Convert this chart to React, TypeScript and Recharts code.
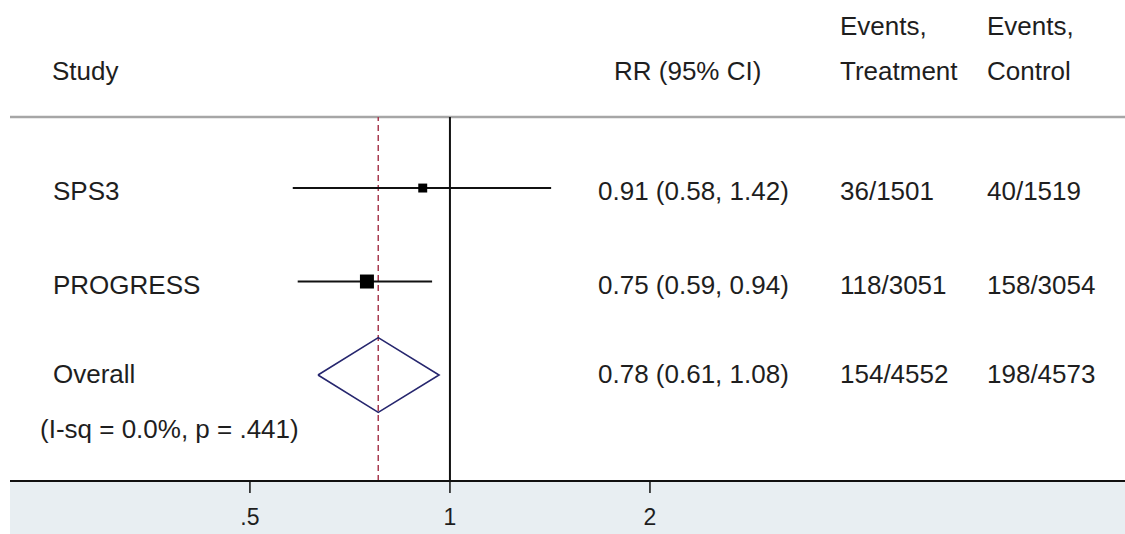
import React from 'react';
import { ComposedChart, XAxis, YAxis, Scatter, ReferenceLine, Customized } from 'recharts';

// ---- data ----
const studies = ['SPS3', 'PROGRESS'];
const rr = [0.91, 0.75];
const ciLow = [0.58, 0.59];
const ciHigh = [1.42, 0.94];
const weights = [29, 71];
const rrLabels = ['0.91 (0.58, 1.42)', '0.75 (0.59, 0.94)'];
const eventsTreatment = ['36/1501', '118/3051'];
const eventsControl = ['40/1519', '158/3054'];
const rowPositions = [3, 2];

const overallLabel = 'Overall';
const overallHet = '(I-sq = 0.0%, p = .441)';
const overallRR = 0.78;
const overallDiamondLow = 0.633;
const overallDiamondHigh = 0.963;
const overallRRLabel = '0.78 (0.61, 1.08)';
const overallTreatment = '154/4552';
const overallControl = '198/4573';
const overallRow = 1;

const xTicks = [0.5, 1, 2];
const xTickLabels = ['.5', '1', '2'];

const headerStudy = 'Study';
const headerRR = 'RR (95% CI)';
const headerTreat = ['Events,', 'Treatment'];
const headerControl = ['Events,', 'Control'];

// ---- layout ----
const W = 1125;
const H = 534;
const FONT = '"Liberation Sans", Arial, sans-serif';
const FS = 26;
const TXT = '#1e1e1e';
const X_DOMAIN: [number, number] = [0.2177, 10.375];
const Y_DOMAIN: [number, number] = [-0.134, 3.76];
const DIAMOND_HALF = 0.4;
const COL_STUDY = 53;
const COL_RR = 598;
const COL_T = 840;
const COL_C = 987;

const rowData = studies.map((s, i) => ({
  x: rr[i],
  y: rowPositions[i],
  name: s,
  w: weights[i],
  rrLabel: rrLabels[i],
  t: eventsTreatment[i],
  c: eventsControl[i],
}));

const overallData = [
  { x: overallRR, y: overallRow, name: overallLabel, rrLabel: overallRRLabel, t: overallTreatment, c: overallControl, het: overallHet },
];

const diamondData = [
  { x: overallDiamondLow, y: overallRow },
  { x: overallRR, y: overallRow + DIAMOND_HALF },
  { x: overallDiamondHigh, y: overallRow },
  { x: overallRR, y: overallRow - DIAMOND_HALF },
  { x: overallDiamondLow, y: overallRow },
];

const txtProps = { fontFamily: FONT, fontSize: FS, fill: TXT };

const RowShape = (props: any) => {
  const { cx, cy, payload } = props;
  const side = 1.66 * Math.sqrt(payload.w);
  return (
    <g>
      <rect x={cx - side / 2} y={cy - side / 2} width={side} height={side} fill="#000" />
      <text x={COL_STUDY} y={cy + 12} {...txtProps}>{payload.name}</text>
      <text x={COL_RR} y={cy + 12} {...txtProps}>{payload.rrLabel}</text>
      <text x={COL_T} y={cy + 12} {...txtProps}>{payload.t}</text>
      <text x={COL_C} y={cy + 12} {...txtProps}>{payload.c}</text>
    </g>
  );
};

const OverallShape = (props: any) => {
  const { cy, payload } = props;
  return (
    <g>
      <text x={COL_STUDY} y={cy + 8} {...txtProps}>{payload.name}</text>
      <text x={40} y={cy + 63} {...txtProps}>{payload.het}</text>
      <text x={COL_RR} y={cy + 8} {...txtProps}>{payload.rrLabel}</text>
      <text x={COL_T} y={cy + 8} {...txtProps}>{payload.t}</text>
      <text x={COL_C} y={cy + 8} {...txtProps}>{payload.c}</text>
    </g>
  );
};

const Headers = () => (
  <g>
    <text x={52} y={80} {...txtProps}>{headerStudy}</text>
    <text x={614} y={80} {...txtProps}>{headerRR}</text>
    <text x={COL_T} y={35} {...txtProps}>{headerTreat[0]}</text>
    <text x={COL_T} y={80} {...txtProps}>{headerTreat[1]}</text>
    <text x={COL_C} y={35} {...txtProps}>{headerControl[0]}</text>
    <text x={COL_C} y={80} {...txtProps}>{headerControl[1]}</text>
  </g>
);

const tickFmt = (v: number) => {
  const i = xTicks.indexOf(v);
  return i >= 0 ? xTickLabels[i] : String(v);
};

export default function App() {
  return (
    <div style={{ position: 'absolute', left: 0, top: 0, width: W, height: H, background: '#fff' }}>
      <div style={{ position: 'absolute', left: 10, top: 481, width: W - 10, height: H - 481, background: '#e8eef2' }} />
      <div style={{ position: 'absolute', left: 0, top: 0 }}>
        <ComposedChart width={W} height={H} margin={{ top: 117, right: 0, bottom: 0, left: 10 }}>
          <XAxis
            dataKey="x"
            type="number"
            scale="log"
            domain={X_DOMAIN}
            allowDataOverflow
            ticks={xTicks}
            tickFormatter={tickFmt}
            height={53}
            tickSize={12}
            tickMargin={16}
            axisLine={{ stroke: '#111', strokeWidth: 2 }}
            tickLine={{ stroke: '#111', strokeWidth: 1.5 }}
            tick={{ fontFamily: FONT, fontSize: 23, fill: TXT }}
            interval={0}
          />
          <YAxis dataKey="y" type="number" domain={Y_DOMAIN} allowDataOverflow hide />
          <ReferenceLine y={Y_DOMAIN[1]} stroke="#a6a6a6" strokeWidth={2.5} />
          <ReferenceLine x={1} stroke="#111" strokeWidth={2} />
          <ReferenceLine x={overallRR} stroke="#a83a50" strokeWidth={1.5} strokeDasharray="6 4" />
          {rowData.map((r, i) => (
            <ReferenceLine
              key={r.name}
              segment={[{ x: ciLow[i], y: r.y }, { x: ciHigh[i], y: r.y }]}
              stroke="#111"
              strokeWidth={2}
            />
          ))}
          <Scatter data={rowData} shape={RowShape} isAnimationActive={false} />
          <Scatter data={overallData} shape={OverallShape} isAnimationActive={false} />
          <Scatter
            data={diamondData}
            line={{ stroke: '#26266e', strokeWidth: 1.6 }}
            lineType="joint"
            shape={() => <g />}
            isAnimationActive={false}
          />
          <Customized component={Headers} />
        </ComposedChart>
      </div>
    </div>
  );
}
